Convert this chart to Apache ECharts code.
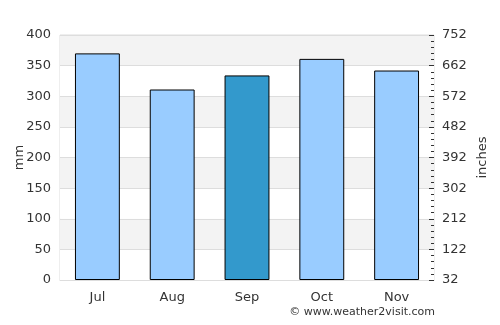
<!DOCTYPE html>
<html>
<head>
<meta charset="utf-8">
<script src="https://cdn.jsdelivr.net/npm/echarts@6/dist/echarts.min.js"></script>
<style>
  html, body { margin: 0; padding: 0; background: #fff; }
  #chart { width: 500px; height: 325px; }
</style>
</head>
<body>
<div id="chart"></div>
<script>
var months = ['Jul', 'Aug', 'Sep', 'Oct', 'Nov'];
var rainfall = [370, 311, 334, 361, 342];
var highlightMonth = 'Sep';

var chart = echarts.init(document.getElementById('chart'));

var barData = rainfall.map(function (v, i) {
    return {
        value: v,
        itemStyle: { color: months[i] === highlightMonth ? '#3399cc' : '#99ccff' }
    };
});

var labelStyle = { color: '#333', fontFamily: 'DejaVu Sans', fontSize: 13 };

var option = {
    animation: false,
    grid: {
        left: 60, right: 66, top: 35, bottom: 45,
        outerBoundsMode: 'none',
        containLabel: false,
        show: true, borderColor: '#dddddd', borderWidth: 1, backgroundColor: 'transparent'
    },
    graphic: [{
        type: 'text',
        right: 65, top: 307,
        style: {
            text: '\u00a9 www.weather2visit.com',
            fill: '#333', font: '11px "DejaVu Sans"'
        }
    }],
    xAxis: {
        type: 'category',
        data: months,
        axisLine: { show: true, lineStyle: { color: '#dddddd' } },
        axisTick: { show: false },
        axisLabel: Object.assign({ margin: 11 }, labelStyle)
    },
    yAxis: [{
        type: 'value',
        name: 'mm',
        nameLocation: 'middle',
        nameGap: 34,
        nameMoveOverlap: false,
        nameTextStyle: labelStyle,
        min: 0, max: 400, interval: 50,
        axisLine: { show: false },
        axisTick: { show: false },
        axisLabel: Object.assign({ margin: 9 }, labelStyle),
        splitLine: { show: true, lineStyle: { color: '#dddddd' } },
        splitArea: { show: true, areaStyle: { color: ['#ffffff', '#f3f3f3'] } }
    }, {
        type: 'value',
        name: 'inches',
        nameLocation: 'middle',
        nameGap: 42,
        nameMoveOverlap: false,
        nameTextStyle: labelStyle,
        position: 'right',
        min: 32, max: 752, interval: 90,
        axisLine: { show: false },
        axisTick: { show: true, length: 5, inside: true, lineStyle: { color: '#333' } },
        minorTick: { show: true, splitNumber: 5, length: 3, lineStyle: { color: '#333' } },
        axisLabel: Object.assign({ margin: 8 }, labelStyle),
        splitLine: { show: false }
    }],
    series: [{
        type: 'bar',
        data: barData,
        barWidth: '60%',
        itemStyle: { borderColor: '#000', borderWidth: 1 }
    }]
};

chart.setOption(option);
</script>
</body>
</html>
